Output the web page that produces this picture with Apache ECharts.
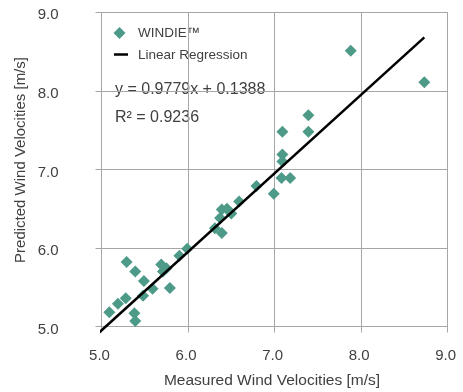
<!DOCTYPE html>
<html>
<head>
<meta charset="utf-8">
<script src="https://cdn.jsdelivr.net/npm/echarts@6/dist/echarts.min.js"></script>
<style>html,body{margin:0;padding:0;background:#fff}#c{width:463px;height:392px}</style>
</head>
<body>
<div id="c"></div>
<script>
// Measured (x) and predicted (y) wind velocities [m/s]
var measured = [5.09, 5.19, 5.28, 5.29, 5.39, 5.38, 5.39, 5.49, 5.48, 5.59, 5.69, 5.71, 5.75, 5.79, 5.90, 5.99,
                6.31, 6.39, 6.37, 6.39, 6.45, 6.50, 6.59, 6.79, 6.99, 7.08, 7.18, 7.09, 7.09, 7.09, 7.39, 7.39, 7.88, 8.73];
var predicted = [5.18, 5.29, 5.36, 5.82, 5.70, 5.17, 5.07, 5.58, 5.39, 5.48, 5.79, 5.70, 5.74, 5.49, 5.90, 5.99,
                 6.25, 6.19, 6.38, 6.49, 6.50, 6.44, 6.59, 6.79, 6.69, 6.89, 6.89, 7.10, 7.19, 7.48, 7.48, 7.69, 8.51, 8.11];
// Linear regression line end points (y = 0.9779x + 0.1388)
var fitX = [4.95, 8.73];
var fitY = [4.90, 8.68];
var xTicks = [5.0, 6.0, 7.0, 8.0, 9.0];
var yTicks = [5.0, 6.0, 7.0, 8.0, 9.0];
var seriesNames = ['WINDIE™', 'Linear Regression'];
var equationText = 'y = 0.9779x + 0.1388';
var r2Text = 'R² = 0.9236';

var pts = measured.map(function (x, i) { return [x, predicted[i]]; });
var fit = fitX.map(function (x, i) { return [x, fitY[i]]; });

var font = 'Liberation Sans, Arial, sans-serif';
var txt = '#404040';
var gridCol = '#a6a6a6';
var teal = '#4E9A89';

var chart = echarts.init(document.getElementById('c'), null, {renderer: 'canvas'});
chart.setOption({
  animation: false,
  grid: {left: 101.5, right: 15.3, top: 12.3, bottom: 65.5, containLabel: false},
  xAxis: {
    type: 'value', min: xTicks[0], max: xTicks[xTicks.length - 1], interval: 1,
    axisLine: {show: true, lineStyle: {color: gridCol, width: 1}},
    axisTick: {show: true, length: 6, lineStyle: {color: gridCol}},
    splitLine: {show: true, lineStyle: {color: gridCol, width: 1}},
    axisLabel: {margin: 22, color: txt, fontSize: 15, fontFamily: font, padding: [0, 4, 0, 0],
      formatter: function (v) { return v.toFixed(1); }}
  },
  yAxis: {
    type: 'value', min: yTicks[0], max: yTicks[yTicks.length - 1], interval: 1,
    axisLine: {show: true, lineStyle: {color: gridCol, width: 1}},
    axisTick: {show: true, length: 6, lineStyle: {color: gridCol}},
    splitLine: {show: true, lineStyle: {color: gridCol, width: 1}},
    axisLabel: {margin: 43, color: txt, fontSize: 15, fontFamily: font, verticalAlign: 'top', lineHeight: 6,
      formatter: function (v) { return v.toFixed(1); }}
  },
  graphic: [
    // legend
    {type: 'polygon', shape: {points: [[119.5, 27], [125.5, 33], [119.5, 39], [113.5, 33]]}, style: {fill: teal}},
    {type: 'text', x: 138, y: 33, style: {text: seriesNames[0], fill: txt, font: '13.5px ' + font, verticalAlign: 'middle'}},
    {type: 'line', shape: {x1: 114, y1: 54.5, x2: 128, y2: 54.5}, style: {stroke: '#000', lineWidth: 2.5}},
    {type: 'text', x: 138, y: 55, style: {text: seriesNames[1], fill: txt, font: '13.5px ' + font, verticalAlign: 'middle'}},
    // equation
    {type: 'text', left: 115, top: 82, style: {text: equationText, fill: txt, font: '16px ' + font}},
    {type: 'text', left: 115, top: 110, style: {text: r2Text, fill: txt, font: '16px ' + font}},
    // axis titles
    {type: 'text', x: 272, y: 381, style: {text: 'Measured Wind Velocities [m/s]', fill: txt, font: '15.5px ' + font, align: 'center', verticalAlign: 'middle'}},
    {type: 'text', x: 21, y: 160, rotation: Math.PI / 2, style: {text: 'Predicted Wind Velocities [m/s]', fill: txt, font: '15px ' + font, align: 'center', verticalAlign: 'middle'}}
  ],
  series: [
    {name: seriesNames[0], type: 'scatter', data: pts, symbol: 'diamond', symbolSize: 12,
      itemStyle: {color: teal, opacity: 1}, z: 3},
    {name: seriesNames[1], type: 'line', data: fit, symbol: 'none', showSymbol: false, clip: false,
      lineStyle: {color: '#000', width: 2.5}, itemStyle: {color: '#000'}, z: 4}
  ]
});
</script>
</body>
</html>
